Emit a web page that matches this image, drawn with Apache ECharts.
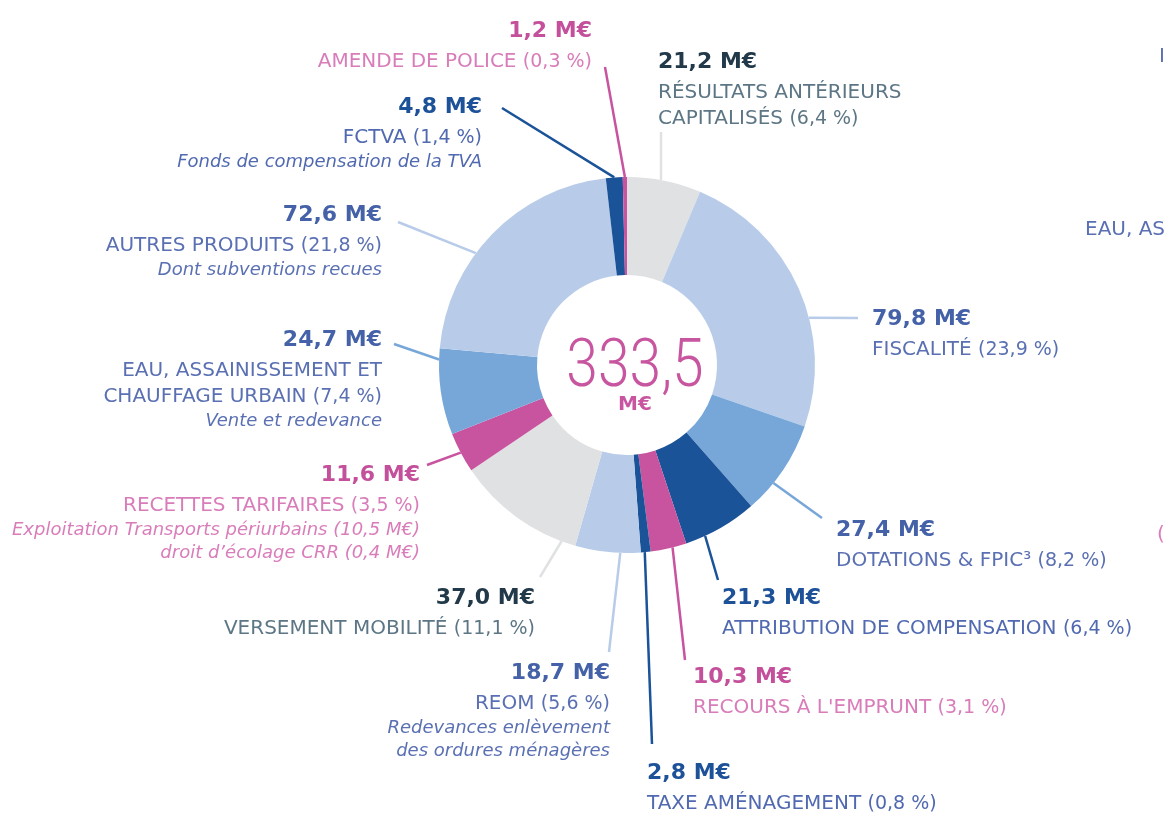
<!DOCTYPE html>
<html><head><meta charset="utf-8">
<script src="https://cdn.jsdelivr.net/npm/echarts@6/dist/echarts.min.js"></script>
<style>html,body{margin:0;padding:0;background:#fff}#c{width:1164px;height:815px}</style>
</head><body><div id="c"></div>
<script>
// ---- data ----
const categories = [
  'RÉSULTATS ANTÉRIEURS\nCAPITALISÉS',
  'FISCALITÉ',
  'DOTATIONS & FPIC³',
  'ATTRIBUTION DE COMPENSATION',
  "RECOURS À L'EMPRUNT",
  'TAXE AMÉNAGEMENT',
  'REOM',
  'VERSEMENT MOBILITÉ',
  'RECETTES TARIFAIRES',
  'EAU, ASSAINISSEMENT ET\nCHAUFFAGE URBAIN',
  'AUTRES PRODUITS',
  'FCTVA',
  'AMENDE DE POLICE'
];
const values = [21.2, 79.8, 27.4, 21.3, 10.3, 2.8, 18.7, 37.0, 11.6, 24.7, 72.6, 4.8, 1.2];
const percents = ['6,4', '23,9', '8,2', '6,4', '3,1', '0,8', '5,6', '11,1', '3,5', '7,4', '21,8', '1,4', '0,3'];
const subtitles = [
  '', '', '', '', '', '',
  'Redevances enlèvement\ndes ordures ménagères',
  '',
  'Exploitation Transports périurbains (10,5 M€)\ndroit d’écolage CRR (0,4 M€)',
  'Vente et redevance',
  'Dont subventions recues',
  'Fonds de compensation de la TVA',
  ''
];
const totalLabel = '333,5';
const totalUnit = 'M€';

// ---- styles ----
const sliceColors = {grey: '#e0e1e3', light: '#b8cce9', mid: '#77a7d9', navy: '#1b5399', pink: '#c8539f'};
const sliceTone = ['grey', 'light', 'mid', 'navy', 'pink', 'navy', 'light', 'grey', 'pink', 'mid', 'light', 'navy', 'pink'];
const textTones = {
  slate: {v: '#22394a', n: '#5d7685'},
  blue: {v: '#4562a8', n: '#5a70b3'},
  navy: {v: '#1d5299', n: '#5069b0'},
  pink: {v: '#c44f9b', n: '#d97dba'}
};
const labelTone = ['slate', 'blue', 'blue', 'navy', 'pink', 'navy', 'blue', 'slate', 'pink', 'blue', 'blue', 'navy', 'pink'];
// layout: [x, top, align, lineEndX, lineEndY, lineStartFractionInSlice]
const labelBoxes = [
  [658, 44, 'left', 661, 132, 0.455],
  [872, 301, 'left', 858, 318, 0.61],
  [836, 512, 'left', 822, 518, 0.67],
  [722, 580, 'left', 718, 580, 0.73],
  [693, 659, 'left', 685, 660, 0.39],
  [647, 755, 'left', 652, 744, 0.6],
  [610, 655, 'right', 609, 652, 0.31],
  [535, 580, 'right', 540, 577, 0.11],
  [420, 457, 'right', 427, 465, 0.5],
  [382, 322, 'right', 394, 344, 0.87],
  [382, 197, 'right', 398, 222, 0.40],
  [482, 89, 'right', 502, 108, 0.5],
  [592, 13, 'right', 605, 67, 0.5]
];
const FONT = 'DejaVu Sans';

function makeRich(tone, align) {
  const t = textTones[tone];
  return {
    v: {fontFamily: FONT, fontSize: 22, fontWeight: 'bold', color: t.v, lineHeight: 36, align: align},
    n: {fontFamily: FONT, fontSize: 20, color: t.n, lineHeight: 26, align: align},
    p: {fontFamily: FONT, fontSize: 19, color: t.n, lineHeight: 26, align: align},
    i: {fontFamily: FONT, fontSize: 18, fontStyle: 'italic', color: t.n, lineHeight: 23, align: align}
  };
}
function fmtVal(v) { return v.toFixed(1).replace('.', ',') + ' M€'; }

const seriesData = categories.map(function (name, i) {
  const nameLines = name.split('\n');
  let s = '{v|' + fmtVal(values[i]) + '}';
  nameLines.forEach(function (ln, k) {
    s += '\n{n|' + ln + (k === nameLines.length - 1 ? ' ' : '') + '}';
    if (k === nameLines.length - 1) s += '{p|(' + percents[i] + ' %)}';
  });
  if (subtitles[i]) subtitles[i].split('\n').forEach(function (ln) { s += '\n{i|' + ln + '}'; });
  return {
    name: name.replace('\n', ' '),
    value: values[i],
    itemStyle: {color: sliceColors[sliceTone[i]]},
    label: {formatter: s, rich: makeRich(labelTone[i], labelBoxes[i][2])}
  };
});

const chart = echarts.init(document.getElementById('c'), null, {renderer: 'canvas'});
const option = {
  backgroundColor: '#ffffff',
  animation: false,
  series: [{
    type: 'pie',
    center: [627, 365],
    radius: [90, 188],
    startAngle: 90,
    clockwise: true,
    avoidLabelOverlap: false,
    emphasis: {disabled: true},
    data: seriesData,
    label: {show: true, position: 'outside', alignTo: 'none', fontFamily: FONT},
    labelLine: {show: true, length: 10, length2: 0, smooth: false, lineStyle: {width: 2.5}},
    labelLayout: function (p) {
      const L = labelBoxes[p.dataIndex];
      let start = p.labelLinePoints ? p.labelLinePoints[0] : [L[3], L[4]];
      try {
        const il = chart.getModel().getSeriesByIndex(0).getData().getItemLayout(p.dataIndex);
        const a = il.startAngle + L[5] * (il.endAngle - il.startAngle);
        start = [il.cx + il.r * Math.cos(a), il.cy + il.r * Math.sin(a)];
      } catch (e) {}
      return {x: L[0], y: L[1], align: L[2], verticalAlign: 'top', labelLinePoints: [start, [L[3], L[4]]]};
    }
  }],
  graphic: [
    {type: 'text', x: 635, y: 369, scaleX: 0.85, silent: true,
     style: {text: totalLabel, fontFamily: 'Roboto', fontWeight: 300, fontSize: 67, fill: '#c8559f', align: 'center', verticalAlign: 'middle'}},
    {type: 'text', x: 635, y: 405, silent: true,
     style: {text: totalUnit, fontFamily: FONT, fontWeight: 'bold', fontSize: 20, fill: '#c8559f', align: 'center', verticalAlign: 'middle'}},
    {type: 'text', x: 1085, y: 230, silent: true,
     style: {text: 'EAU, ASSAINISSEMENT', fontFamily: FONT, fontSize: 20, fill: '#5a70b3', align: 'left', verticalAlign: 'middle'}},
    {type: 'text', x: 1159, y: 57, silent: true,
     style: {text: 'I', fontFamily: FONT, fontSize: 20, fill: '#5a70b3', align: 'left', verticalAlign: 'middle'}},
    {type: 'text', x: 1157, y: 535, silent: true,
     style: {text: '(', fontFamily: FONT, fontSize: 20, fill: '#d97dba', align: 'left', verticalAlign: 'middle'}}
  ]
};
chart.setOption(option);
</script>
</body></html>
